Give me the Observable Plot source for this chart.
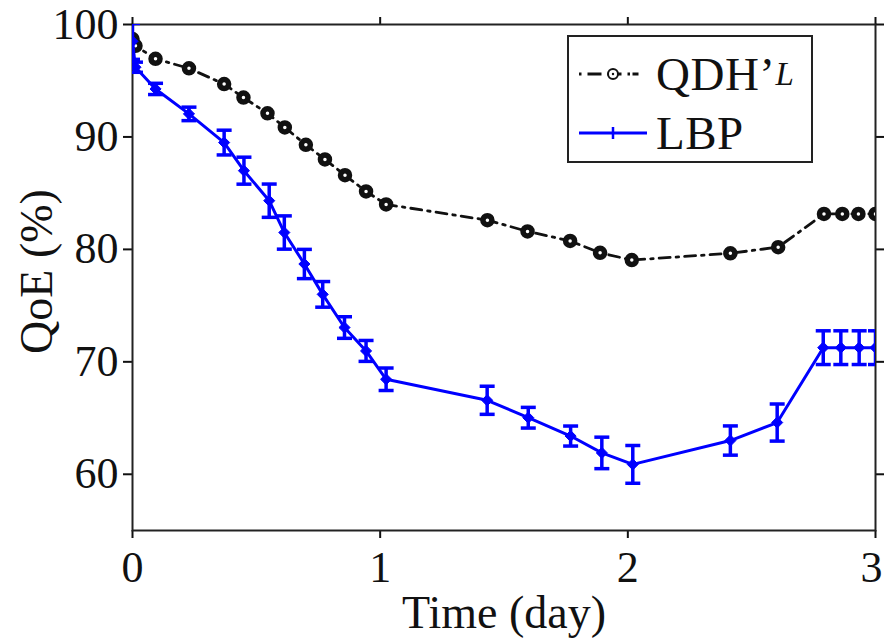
<!DOCTYPE html>
<html>
<head>
<meta charset="utf-8">
<script src="https://cdn.jsdelivr.net/npm/d3@7"></script>
<script src="https://cdn.jsdelivr.net/npm/@observablehq/plot@0.6"></script>
<style>
  body { margin: 0; background: #fff; }
  #wrap { position: relative; width: 884px; height: 641px; font-family: "Liberation Serif", serif; }
  #legend { position: absolute; left: 567px; top: 35px; width: 242px; height: 124px; border: 2px solid #222; background: #fff; }
  .row { position: absolute; left: 0; height: 50px; display: flex; align-items: center; font-size: 47px; color: #111; letter-spacing: 0.5px; }
  .row svg { margin-left: 9px; margin-right: 8px; }
  sub { font-size: 33px; font-style: italic; vertical-align: -10px; line-height: 0; }
</style>
</head>
<body>
<div id="wrap"></div>
<script>
// Time (day) and QoE (%)
const daysQDH = [0, 0.012, 0.093, 0.228, 0.37, 0.448, 0.545, 0.615, 0.70, 0.777, 0.858, 0.943, 1.024, 1.433, 1.595, 1.767, 1.888, 2.016, 2.414, 2.607, 2.792, 2.866, 2.931, 3.0];
const qoeQDH  = [98.7, 98.1, 96.95, 96.1, 94.7, 93.5, 92.1, 90.85, 89.3, 88.0, 86.6, 85.15, 84.0, 82.6, 81.6, 80.75, 79.7, 79.05, 79.65, 80.2, 83.15, 83.15, 83.15, 83.15];

const daysLBP = [0, 0.012, 0.093, 0.228, 0.37, 0.45, 0.552, 0.613, 0.694, 0.768, 0.856, 0.943, 1.024, 1.432, 1.598, 1.769, 1.895, 2.02, 2.414, 2.603, 2.789, 2.86, 2.934, 3.0];
const qoeLBP  = [98.5, 96.2, 94.27, 92.05, 89.5, 87.0, 84.33, 81.5, 78.7, 76.0, 73.05, 70.97, 68.45, 66.58, 65.03, 63.4, 61.9, 60.88, 63.0, 64.6, 71.26, 71.26, 71.26, 71.26];
const errLBP  = [1.6, 0.45, 0.5, 0.6, 1.1, 1.2, 1.48, 1.48, 1.3, 1.14, 0.96, 0.93, 1.0, 1.25, 0.92, 0.89, 1.4, 1.68, 1.3, 1.65, 1.5, 1.5, 1.5, 1.5];

const xTicks = [0, 1, 2, 3];
const yTicks = [60, 70, 80, 90, 100];
const xLabel = ["Time (day)"];
const yLabel = ["QoE (%)"];

const qdh = daysQDH.map((d, i) => ({t: d, q: qoeQDH[i]}));
const lbp = daysLBP.map((d, i) => ({t: d, q: qoeLBP[i], lo: qoeLBP[i] - errLBP[i], hi: qoeLBP[i] + errLBP[i]}));

const capSymbol = {
  draw(context, size) {
    const r = Math.sqrt(size / Math.PI);
    context.moveTo(-r, 0);
    context.lineTo(r, 0);
  }
};

const blue = "#0000ff";

const chart = Plot.plot({
  width: 884,
  height: 641,
  marginLeft: 132,
  marginRight: 9,
  marginTop: 24,
  marginBottom: 111,
  style: {fontFamily: "Liberation Serif", fontSize: "44px", color: "#111", background: "white"},
  x: {domain: [0, 3]},
  y: {domain: [55, 100]},
  marks: [
    Plot.axisX({ticks: xTicks, tickSize: 8, tickFormat: () => "", label: null, strokeWidth: 2}),
    Plot.axisX({ticks: xTicks.slice(0, -1), tickSize: 0, tickPadding: 20, tickFormat: d => d, label: null}),
    Plot.axisX({ticks: xTicks.slice(-1), tickSize: 0, tickPadding: 20, dx: -4, tickFormat: d => d, label: null}),
    Plot.axisX({anchor: "top", ticks: xTicks, tickSize: 8, tickFormat: () => "", label: null, strokeWidth: 2}),
    Plot.axisY({ticks: yTicks, tickSize: 9, tickPadding: 5, tickFormat: d => d, label: null, strokeWidth: 2}),
    Plot.axisY({anchor: "right", ticks: yTicks, tickSize: 8, tickFormat: () => "", label: null, strokeWidth: 2}),
    Plot.text(xLabel, {frameAnchor: "bottom", dy: 97, fontSize: 46, text: d => d, fill: "#111", style: "letter-spacing:1.5px"}),
    Plot.text(yLabel, {frameAnchor: "left", textAnchor: "middle", dx: -95, dy: -6, rotate: -90, fontSize: 46, text: d => d, fill: "#111"}),
    Plot.frame({stroke: "#222", strokeWidth: 2}),
    // QDH'_L
    Plot.line(qdh, {x: "t", y: "q", stroke: "#111", strokeWidth: 2.8, strokeDasharray: "11,6,2.5,6", clip: true}),
    Plot.dot(qdh, {x: "t", y: "q", r: 4.5, stroke: "#111", strokeWidth: 5.5, fill: "white", clip: true}),
    // LBP
    Plot.line(lbp, {x: "t", y: "q", stroke: blue, strokeWidth: 3, clip: true}),
    Plot.ruleX(lbp, {x: "t", y1: "lo", y2: "hi", stroke: blue, strokeWidth: 3.5, clip: true}),
    Plot.dot(lbp, {x: "t", y: "lo", symbol: capSymbol, r: 7.5, stroke: blue, strokeWidth: 3.5, fill: "none", clip: true}),
    Plot.dot(lbp, {x: "t", y: "hi", symbol: capSymbol, r: 7.5, stroke: blue, strokeWidth: 3.5, fill: "none", clip: true}),
    Plot.dot(lbp, {x: "t", y: "q", symbol: "diamond2", r: 5, fill: blue, stroke: blue, strokeWidth: 1, clip: true})
  ]
});

const wrap = document.getElementById("wrap");
wrap.appendChild(chart);

const legend = document.createElement("div");
legend.id = "legend";
legend.innerHTML = `
  <div class="row" style="top:12px">
    <svg width="70" height="20" viewBox="0 0 70 20">
      <line x1="1" y1="10" x2="69" y2="10" stroke="#111" stroke-width="2.8" stroke-dasharray="2.5,6,14,6,14,6,2.5"/>
      <circle cx="35" cy="10" r="5" fill="white" stroke="#111" stroke-width="2"/>
      <circle cx="35" cy="10" r="1.2" fill="#111"/>
    </svg>QDH’<sub>L</sub>
  </div>
  <div class="row" style="top:71px">
    <svg width="70" height="20" viewBox="0 0 70 20">
      <line x1="1" y1="10" x2="69" y2="10" stroke="${blue}" stroke-width="3"/>
      <line x1="35" y1="4" x2="35" y2="16" stroke="${blue}" stroke-width="2.5"/>
    </svg>LBP
  </div>`;
wrap.appendChild(legend);
</script>
</body>
</html>
